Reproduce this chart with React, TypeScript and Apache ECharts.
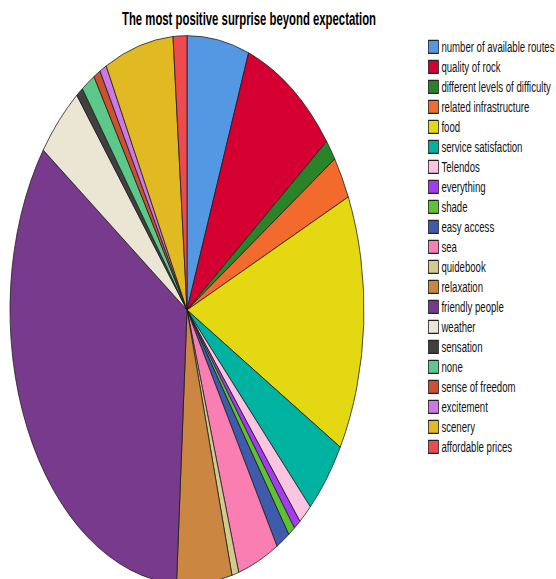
import React, { useEffect, useRef } from "react";
import * as echarts from "echarts";

const categories = [
  "number of available routes",
  "quality of rock",
  "different levels of difficulty",
  "related infrastructure",
  "food",
  "service satisfaction",
  "Telendos",
  "everything",
  "shade",
  "easy access",
  "sea",
  "quidebook",
  "relaxation",
  "friendly people",
  "weather",
  "sensation",
  "none",
  "sense of freedom",
  "excitement",
  "scenery",
  "affordable prices",
];

const counts = [9, 14, 2, 4, 24, 7, 2, 1, 1, 2, 6, 1, 8, 54, 7, 1, 2, 1, 1, 10, 2];

const colors = [
  "#5497E3",
  "#D50032",
  "#2A8427",
  "#F26A2C",
  "#E3D812",
  "#00B2A0",
  "#FBC5E1",
  "#A53BF0",
  "#5FC232",
  "#3F5BAB",
  "#F97EB2",
  "#D3CB8E",
  "#CB8642",
  "#783A8C",
  "#EBE5D4",
  "#404040",
  "#5CC98A",
  "#D0502E",
  "#CC78E6",
  "#E0B923",
  "#EF4B4E",
];

const titleText = "The most positive surprise beyond expectation";
const FONT = "'Liberation Sans', Arial, sans-serif";
const STRETCH = 1.55;
const W = 556;
const H = 579 / STRETCH;

export default function App() {
  const ref = useRef<HTMLDivElement>(null);

  useEffect(() => {
    const chart = echarts.init(ref.current!, null, { renderer: "svg" });
    chart.setOption({
      animation: false,
      color: colors,
      title: {
        text: titleText,
        left: 249,
        textAlign: "center",
        top: 6.5,
        padding: 0,
        textStyle: { fontFamily: FONT, fontSize: 11.35, fontWeight: "bold", color: "#000" },
      },
      legend: {
        orient: "vertical",
        left: 428,
        top: 24.8,
        padding: 0,
        itemWidth: 10,
        itemHeight: 8.4,
        itemGap: 1.9,
        icon: "rect",
        selectedMode: false,
        data: categories,
        itemStyle: { borderColor: "#222", borderWidth: 0.8 },
        textStyle: {
          fontFamily: FONT,
          fontSize: 9.6,
          lineHeight: 11,
          color: "#111",
          padding: [0, 0, 0, -2],
        },
      },
      series: [
        {
          type: "pie",
          center: [187, 200],
          radius: [0, 177],
          startAngle: 90,
          clockwise: true,
          label: { show: false },
          labelLine: { show: false },
          emphasis: { disabled: true },
          itemStyle: { borderColor: "#1a1a1a", borderWidth: 0.6 },
          data: categories.map((name, i) => ({ name, value: counts[i] })),
        },
      ],
    });
    return () => chart.dispose();
  }, []);

  return (
    <div
      ref={ref}
      style={{
        position: "absolute",
        left: 0,
        top: 0,
        width: W,
        height: H,
        transform: `scaleY(${STRETCH})`,
        transformOrigin: "0 0",
      }}
    />
  );
}
